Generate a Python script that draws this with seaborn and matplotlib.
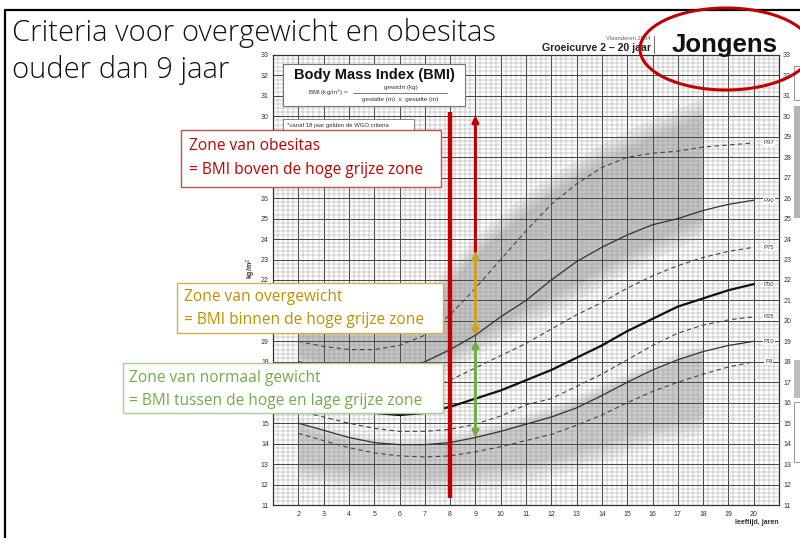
import numpy as np
import pandas as pd
import matplotlib
matplotlib.use("Agg")
import matplotlib.pyplot as plt
import seaborn as sns
from matplotlib.patches import Rectangle, Ellipse
from matplotlib.lines import Line2D

# ---------------- data ----------------
ages = list(range(2, 21))
p3  = [14.5, 14.15, 13.8, 13.55, 13.4, 13.35, 13.4, 13.6, 13.85, 14.15, 14.45, 14.9, 15.4, 16.0, 16.55, 17.0, 17.4, 17.75, 18.0]
p10 = [15.0, 14.65, 14.3, 14.05, 13.95, 13.95, 14.05, 14.3, 14.6, 14.95, 15.3, 15.75, 16.35, 17.0, 17.6, 18.1, 18.5, 18.8, 19.0]
p25 = [15.6, 15.3, 15.0, 14.75, 14.6, 14.6, 14.7, 14.95, 15.35, 15.9, 16.2, 16.8, 17.4, 18.1, 18.8, 19.4, 19.8, 20.05, 20.2]
p50 = [16.2, 15.9, 15.6, 15.5, 15.4, 15.5, 15.8, 16.2, 16.6, 17.1, 17.6, 18.2, 18.8, 19.5, 20.1, 20.7, 21.1, 21.5, 21.8]
p75 = [17.2, 16.8, 16.5, 16.4, 16.4, 16.6, 17.1, 17.7, 18.3, 18.9, 19.6, 20.3, 20.9, 21.6, 22.2, 22.7, 23.1, 23.4, 23.6]
p90 = [18.0, 17.8, 17.6, 17.6, 17.7, 18.0, 18.6, 19.3, 20.2, 21.0, 22.0, 22.9, 23.6, 24.2, 24.7, 25.0, 25.4, 25.7, 25.9]
p97 = [19.0, 18.75, 18.6, 18.6, 18.8, 19.3, 20.3, 21.6, 23.0, 24.4, 25.7, 26.7, 27.5, 28.0, 28.2, 28.3, 28.5, 28.6, 28.7]
percentile_names = ["P3", "P10", "P25", "P50", "P75", "P90", "P97"]

zone_ages = list(range(2, 19))
over_low  = [18.4, 17.9, 17.6, 17.4, 17.6, 17.9, 18.5, 19.2, 19.9, 20.6, 21.2, 21.9, 22.6, 23.3, 23.9, 24.5, 25.0]
over_high = [20.1, 19.6, 19.3, 19.3, 19.8, 20.6, 21.8, 23.2, 24.3, 25.3, 26.2, 27.0, 27.8, 28.4, 29.0, 29.5, 30.0]
thin_high = [14.8, 14.4, 14.1, 13.9, 13.8, 13.9, 14.0, 14.3, 14.6, 15.0, 15.4, 15.9, 16.5, 17.0, 17.5, 18.0, 18.4]
thin_low  = [13.0, 12.8, 12.6, 12.5, 12.4, 12.4, 12.5, 12.6, 12.8, 13.0, 13.3, 13.6, 14.0, 14.4, 14.8, 15.1, 15.4]

x_ticks = list(range(1, 22))
x_tick_labels = ["" if a in (1, 21) else str(a) for a in x_ticks]
y_ticks = list(range(11, 34))
# left labels that sit under the annotation boxes in the reference are not visible
hidden_left = [16, 17, 20, 21, 27, 28, 29]
y_tick_labels_left = ["" if v in hidden_left else str(v) for v in y_ticks]
y_tick_labels_right = [str(v) for v in y_ticks]

marker_age = 8          # red vertical line
marker_range = (11.35, 30.2)
arrow_age = 9
obese_arrow = (23.4, 30.05)
over_arrow = (19.25, 23.4)
normal_arrow = (14.3, 19.05)

# ---------------- style ----------------
sns.set_theme(style="white")
plt.rcParams['font.family'] = ['Liberation Sans', 'DejaVu Sans']

W, H = 800, 538
fig = plt.figure(figsize=(8, 5.38), dpi=100)
fig.patch.set_facecolor("white")

def fx(px):
    return px / W

def fy(py):
    return 1 - py / H

ax = fig.add_axes([fx(273), fy(505), fx(779) - fx(273), fy(55) - fy(505)])
ax.set_xlim(1, 21)
ax.set_ylim(11, 33)
ax.set_facecolor("white")

# grey zones with soft edges
for k, d in enumerate([0.9, 0.6, 0.35, 0.15, 0.0]):
    ax.fill_between(zone_ages, np.array(over_low) - d, np.array(over_high) + d,
                    color="#a0a0a0", alpha=0.17, lw=0, zorder=0.2)
    ax.fill_between(zone_ages, np.array(thin_low) - d, np.array(thin_high) + d * 0.5,
                    color="#a8a8a8", alpha=0.15, lw=0, zorder=0.2)

# grid
ax.set_xticks(x_ticks)
ax.set_xticklabels(x_tick_labels)
ax.set_yticks(y_ticks)
ax.set_yticklabels(y_tick_labels_left)
ax.set_xticks(np.arange(1, 21.01, 0.2), minor=True)
ax.set_yticks(np.arange(11, 33.01, 0.2), minor=True)
ax.set_axisbelow(True)
ax.grid(which="minor", color="#9a9a9a", lw=0.35, zorder=0.4)
ax.grid(which="major", color="#4a4a4a", lw=0.75, zorder=0.5)
for s in ax.spines.values():
    s.set_color("#333333")
    s.set_linewidth(0.9)
ax.tick_params(which="both", length=0)
ax.tick_params(axis="x", labelsize=5, pad=4, colors="#333333")
ax.tick_params(axis="y", labelsize=5, pad=3, colors="#333333")

ax2 = ax.twinx()
ax2.set_ylim(11, 33)
ax2.set_yticks(y_ticks)
ax2.set_yticklabels(y_tick_labels_right)
ax2.tick_params(which="both", length=0, labelsize=5, pad=3, colors="#333333")
ax2.grid(False)
for s in ax2.spines.values():
    s.set_visible(False)

# percentile curves
series = [p3, p10, p25, p50, p75, p90, p97]
styles = {
    "P3":  dict(ls=(0, (4, 3)), lw=0.8, color="#444444"),
    "P10": dict(ls="-", lw=0.9, color="#333333"),
    "P25": dict(ls=(0, (4, 3)), lw=0.8, color="#444444"),
    "P50": dict(ls="-", lw=1.6, color="#111111"),
    "P75": dict(ls=(0, (4, 3)), lw=0.8, color="#444444"),
    "P90": dict(ls="-", lw=0.9, color="#333333"),
    "P97": dict(ls=(0, (4, 3)), lw=0.8, color="#444444"),
}
df = pd.DataFrame({"age": ages * len(series),
                   "bmi": sum(series, []),
                   "pct": sum([[n] * len(ages) for n in percentile_names], [])})
for name in percentile_names:
    sub = df[df["pct"] == name]
    st = styles[name]
    sns.lineplot(data=sub, x="age", y="bmi", ax=ax, color=st["color"],
                 linewidth=st["lw"], linestyle=st["ls"], zorder=3)
    ax.text(20.6, sub["bmi"].iloc[-1], name, fontsize=4.3, ha="center", va="center",
            color="#333333", zorder=4,
            bbox=dict(boxstyle="square,pad=0.15", fc="white", ec="none"))
ax.set_xlabel("")
ax.set_ylabel("")

# red vertical marker and arrows
red = "#C00000"
gold = "#C9A227"
green = "#70AD47"
ax.plot([marker_age, marker_age], list(marker_range), color=red, lw=3.2,
        solid_capstyle="butt", zorder=6)
ax.annotate("", xy=(arrow_age, obese_arrow[1]), xytext=(arrow_age, obese_arrow[0]),
            arrowprops=dict(arrowstyle="-|>", color=red, lw=2.2, mutation_scale=9,
                            shrinkA=0, shrinkB=0), zorder=6)
ax.annotate("", xy=(arrow_age, over_arrow[1]), xytext=(arrow_age, over_arrow[0]),
            arrowprops=dict(arrowstyle="<|-|>", color=gold, lw=2.2, mutation_scale=9,
                            shrinkA=0, shrinkB=0), zorder=7)
ax.annotate("", xy=(arrow_age, normal_arrow[1]), xytext=(arrow_age, normal_arrow[0]),
            arrowprops=dict(arrowstyle="<|-|>", color=green, lw=2.2, mutation_scale=9,
                            shrinkA=0, shrinkB=0), zorder=7)

# ---------------- figure-level decorations ----------------
def rect(x0, y0, x1, y1, fc="white", ec="none", lw=1.0, z=1):
    r = Rectangle((fx(x0), fy(y1)), fx(x1) - fx(x0), fy(y0) - fy(y1),
                  transform=fig.transFigure, fc=fc, ec=ec, lw=lw, zorder=z)
    fig.patches.append(r)

# slide frame
fig.add_artist(Line2D([fx(5), fx(800)], [fy(10), fy(10)], color="black", lw=1.6))
fig.add_artist(Line2D([fx(5), fx(5)], [fy(10), fy(538)], color="black", lw=1.6))

# title
title_font = ['Open Sans', 'DejaVu Sans']
fig.text(fx(12), fy(33), "Criteria voor overgewicht en obesitas", fontsize=21,
         family=title_font, fontweight="light", va="center", ha="left", color="#111111")
fig.text(fx(12), fy(70), "ouder dan 9 jaar", fontsize=21,
         family=title_font, fontweight="light", va="center", ha="left", color="#111111")

# chart header
fig.text(fx(651), fy(51), "Groeicurve 2 \u2013 20 jaar", fontsize=7.6, fontweight="bold",
         ha="right", va="baseline", color="#222222")
fig.text(fx(650), fy(40), "Vlaanderen 2004", fontsize=4.2, ha="right", va="baseline",
         color="#666666")
fig.add_artist(Line2D([fx(654), fx(654)], [fy(36), fy(53)], color="#555555", lw=0.6))
fig.text(fx(672), fy(52), "Jongens", fontsize=18.5, fontweight="bold", ha="left",
         va="baseline", color="#111111")

# red ellipse
fig.patches.append(Ellipse((fx(726), fy(49)), 172 / W, 82 / H, transform=fig.transFigure,
                           fill=False, ec=red, lw=2.2, zorder=5))

# BMI box
rect(283, 64, 465, 106, fc="white", ec="#777777", lw=0.8, z=1)
fig.text(fx(374), fy(75), "Body Mass Index (BMI)", fontsize=10.5, fontweight="bold",
         ha="center", va="center", color="#111111", zorder=2)
fig.text(fx(328), fy(93), "BMI (kg/m$^2$) =", fontsize=4.5, ha="center", va="center",
         color="#333333", zorder=2)
fig.text(fx(401), fy(87), "gewicht (kg)", fontsize=4.5, ha="center", va="center",
         color="#333333", zorder=2)
fig.add_artist(Line2D([fx(353), fx(447)], [fy(92.5), fy(92.5)], color="#444444", lw=0.5))
fig.text(fx(400), fy(99), "gestalte (m)  x  gestalte (m)", fontsize=4.5, ha="center",
         va="center", color="#333333", zorder=2)

# footnote box (mostly hidden)
rect(283, 119, 414, 148, fc="white", ec="#777777", lw=0.6, z=1)
fig.text(fx(287), fy(126), "*vanaf 18 jaar gelden de WGO criteria", fontsize=4.3,
         ha="left", va="center", color="#333333", zorder=1.5)

# axis titles
fig.text(fx(251), fy(268), "kg/m$^2$", fontsize=5, fontweight="bold", rotation=90,
         ha="center", va="center", color="#333333")
fig.text(fx(779), fy(522), "leeftijd, jaren", fontsize=5, fontweight="bold",
         ha="right", va="center", color="#333333")

# cropped legend strips at right edge
rect(794, 106, 801, 218, fc="#b5b5b5", ec="none", z=1)
rect(794, 360, 801, 398, fc="#bdbdbd", ec="none", z=1)
rect(794, 402, 801, 462, fc="white", ec="#888888", lw=0.6, z=1)
rect(794, 66, 801, 100, fc="white", ec="#888888", lw=0.6, z=1)

# annotation boxes
box_font = ['Open Sans', 'DejaVu Sans']
bfs = 11.2
rect(181, 130, 441, 187, fc="white", ec="#C0504D", lw=1.0, z=2)
fig.text(fx(189), fy(146), "Zone van obesitas", fontsize=bfs, family=box_font,
         color=red, ha="left", va="center", zorder=3)
fig.text(fx(189), fy(170), "= BMI boven de hoge grijze zone", fontsize=bfs, family=box_font,
         color=red, ha="left", va="center", zorder=3)

rect(177, 283, 443, 333, fc="white", ec="#D4B04A", lw=1.0, z=2)
fig.text(fx(184), fy(297), "Zone van overgewicht", fontsize=bfs, family=box_font,
         color="#BF9000", ha="left", va="center", zorder=3)
fig.text(fx(184), fy(320), "= BMI binnen de hoge grijze zone", fontsize=bfs, family=box_font,
         color="#BF9000", ha="left", va="center", zorder=3)

rect(123, 363, 443, 413, fc="white", ec="#A9D18E", lw=1.0, z=2)
fig.text(fx(129), fy(378), "Zone van normaal gewicht", fontsize=bfs, family=box_font,
         color=green, ha="left", va="center", zorder=3)
fig.text(fx(129), fy(401), "= BMI tussen de hoge en lage grijze zone", fontsize=bfs,
         family=box_font, color=green, ha="left", va="center", zorder=3)

fig.savefig("out.png", dpi=100, facecolor="white")
